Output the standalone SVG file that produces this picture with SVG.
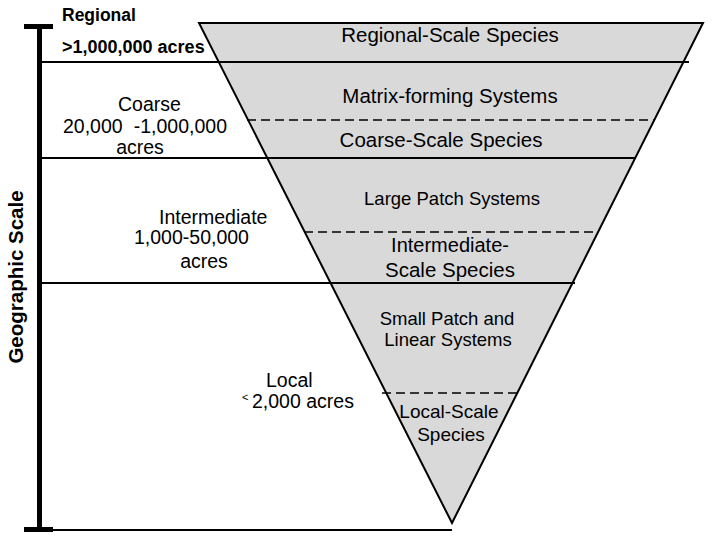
<svg xmlns="http://www.w3.org/2000/svg" width="720" height="540" viewBox="0 0 720 540">
  <style>
    .t { font-family: "Liberation Sans", Arial, sans-serif; fill: #000; }
    .b { font-weight: bold; }
    .c { text-anchor: middle; }
    .solid { stroke: #000; stroke-width: 2; fill: none; }
    .dash { stroke: #000; stroke-width: 1.5; stroke-dasharray: 9 5; fill: none; }
    .bar { fill: #000; }
  </style>
  <rect width="720" height="540" fill="#fff"/>

  <g id="triangle">
    <polygon points="199,23 703,23 452,523" fill="#d9d9d9" stroke="#000" stroke-width="2" stroke-linejoin="miter"/>
  </g>

  <g id="connectors">
    <line class="solid" x1="42" y1="62" x2="689" y2="62"/>
    <line class="solid" x1="42" y1="158" x2="636" y2="158"/>
    <line class="solid" x1="42" y1="283" x2="575" y2="283"/>
    <line class="solid" x1="53" y1="530" x2="452" y2="530"/>
    <line class="dash" x1="247" y1="120" x2="655" y2="120"/>
    <line class="dash" x1="304" y1="232" x2="598" y2="232"/>
    <line class="dash" x1="382" y1="393" x2="520" y2="393"/>
  </g>

  <g id="scale-bar">
    <rect class="bar" x="37" y="25" width="5" height="507"/>
    <rect class="bar" x="24" y="24" width="29" height="5"/>
    <rect class="bar" x="24" y="527" width="29" height="5"/>
    <text class="t b c" font-size="20.5" transform="translate(23,277) rotate(-90)">Geographic Scale</text>
  </g>

  <g id="regional">
    <text class="t b" font-size="17.5" x="62" y="21">Regional</text>
    <text class="t b" font-size="18" x="62" y="53">&gt;1,000,000 acres</text>
    <text class="t c" font-size="20.5" x="450" y="42">Regional-Scale Species</text>
  </g>

  <g id="coarse">
    <text class="t" font-size="19.5" x="118" y="111">Coarse</text>
    <text class="t" font-size="19.5" x="63" y="133">20,000</text>
    <text class="t" font-size="19.5" x="227" y="133" text-anchor="end">-1,000,000</text>
    <text class="t c" font-size="19.5" x="140" y="154">acres</text>
    <text class="t c" font-size="20.5" x="450" y="103">Matrix-forming Systems</text>
    <text class="t c" font-size="20.5" x="441" y="147">Coarse-Scale Species</text>
  </g>

  <g id="intermediate">
    <text class="t" font-size="19.5" x="159" y="224">Intermediate</text>
    <text class="t" font-size="19.5" x="134" y="244">1,000-50,000</text>
    <text class="t c" font-size="19.5" x="204" y="268">acres</text>
    <text class="t c" font-size="18.5" x="452" y="205">Large Patch Systems</text>
    <text class="t c" font-size="20" x="450" y="252">Intermediate-</text>
    <text class="t c" font-size="20.5" x="450" y="277">Scale Species</text>
  </g>

  <g id="local">
    <text class="t" font-size="19.5" x="266" y="387">Local</text>
    <text class="t" font-size="11" x="242" y="401">&lt;</text>
    <text class="t" font-size="19.5" x="252" y="408">2,000 acres</text>
    <text class="t c" font-size="18.5" x="447" y="325">Small Patch and</text>
    <text class="t c" font-size="18.5" x="448" y="346">Linear Systems</text>
    <text class="t c" font-size="19" x="449" y="418">Local-Scale</text>
    <text class="t c" font-size="19" x="451" y="441">Species</text>
  </g>
</svg>
